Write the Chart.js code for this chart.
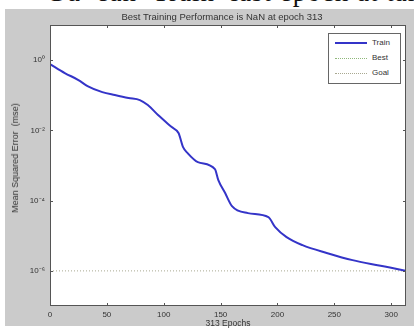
<!DOCTYPE html>
<html>
<head>
<meta charset="utf-8">
<script src="https://cdn.jsdelivr.net/npm/chart.js@4.4.1/dist/chart.umd.min.js"></script>
<style>
  html, body { margin: 0; padding: 0; background: #fff; }
  #wrap { position: relative; width: 414px; height: 329px; overflow: hidden; }
  #doc { position: absolute; left: 46px; top: -23px; font: 27px "Liberation Serif", serif; color: #111; white-space: nowrap; letter-spacing: 1px; }
  #fig { position: absolute; left: 5px; top: 9px; width: 409px; height: 317px; background: #cbcbcb; }
  canvas { position: absolute; left: 0; top: 0; }
  .lbl { position: absolute; font: 8px "Liberation Sans", Arial, sans-serif; color: #333; white-space: nowrap; }
  #title { left: 222px; top: 11px; transform: translateX(-50%); font-size: 9.5px; }
  #xtitle { left: 228px; top: 318px; transform: translateX(-50%); font-size: 8.5px; }
  #ytitle { left: 15px; top: 158px; transform: translate(-50%, -50%) rotate(-90deg); font-size: 9px; }
  #legend { position: absolute; left: 328px; top: 33px; width: 71px; height: 49px; background: #fff; border: 1px solid #666; }
  .row { position: absolute; left: 6px; height: 10px; width: 62px; }
  .sw { position: absolute; left: 0; top: 5px; width: 32px; height: 0; }
  .row span { position: absolute; left: 37px; top: 0; font: 8px "Liberation Sans", Arial, sans-serif; color: #333; }
</style>
</head>
<body>
<div id="wrap">
  <div id="doc">Gu&nbsp;&nbsp;ean&nbsp;&nbsp;Train&nbsp;&nbsp;last epoch at target</div>
  <div id="fig"></div>
  <canvas id="chart" width="414" height="329"></canvas>
  <div class="lbl" id="title">Best Training Performance is NaN at epoch 313</div>
  <div class="lbl" id="xtitle">313 Epochs</div>
  <div class="lbl" id="ytitle">Mean Squared Error&nbsp;&nbsp;(mse)</div>
  <div id="legend">
    <div class="row" style="top:4px"><div class="sw" style="border-top:2px solid #3434c8;top:4px"></div><span>Train</span></div>
    <div class="row" style="top:19px"><div class="sw" style="border-top:1px dotted #8fb87a"></div><span>Best</span></div>
    <div class="row" style="top:34px"><div class="sw" style="border-top:1px dotted #a8a890"></div><span>Goal</span></div>
  </div>
</div>
<script>
// epochs
var epochs = [0, 13, 25, 33, 46, 57, 69, 79, 86, 95, 107, 113, 117, 121, 130, 145, 148, 154, 160, 174, 192, 198, 208, 222, 244, 266, 288, 302, 313];
// training mse at those epochs
var trainMse = [0.774, 0.429, 0.271, 0.183, 0.123, 0.101, 0.0832, 0.0729, 0.0526, 0.0273, 0.0124, 0.00838, 0.00334, 0.00225, 0.00125,
  7.89e-4, 3.84e-4, 1.64e-4, 6.97e-5, 4.41e-5, 3.39e-5, 1.76e-5, 9.12e-6, 5.40e-6, 3.19e-6, 2.02e-6, 1.45e-6, 1.19e-6, 1.0e-6];
var goalValue = 1e-6;
var xRange = [0, 313];
var yRange = [1e-7, 10];
var xTicks = [0, 50, 100, 150, 200, 250, 300];
var yTicks = [1e-6, 1e-4, 1e-2, 1];

var sup = { '0': '\u2070', '1': '\u00b9', '2': '\u00b2', '3': '\u00b3', '4': '\u2074', '5': '\u2075', '6': '\u2076', '7': '\u2077', '8': '\u2078', '9': '\u2079', '-': '\u207b' };
function decadeLabel(v) {
    var e = String(Math.round(Math.log10(v)));
    var s = '';
    for (var i = 0; i < e.length; i++) s += sup[e[i]];
    return '10' + s;
}

var trainPts = epochs.map(function(e, i) { return { x: e, y: trainMse[i] }; });
var goalPts = [{ x: xRange[0], y: goalValue }, { x: xRange[1], y: goalValue }];

// white axes background, box and inward ticks like matlab
var axesBox = {
    id: 'axesBox',
    beforeDraw: function(chart) {
        var a = chart.chartArea, ctx = chart.ctx;
        ctx.save();
        ctx.fillStyle = '#fff';
        ctx.fillRect(a.left, a.top, a.right - a.left, a.bottom - a.top);
        ctx.restore();
    },
    afterDraw: function(chart) {
        var a = chart.chartArea, ctx = chart.ctx;
        var xs = chart.scales.x, ys = chart.scales.y;
        ctx.save();
        ctx.strokeStyle = '#555';
        ctx.lineWidth = 1;
        ctx.strokeRect(a.left + 0.5, a.top + 0.5, a.right - a.left - 1, a.bottom - a.top - 1);
        ctx.beginPath();
        xs.ticks.forEach(function(t) {
            var px = Math.round(xs.getPixelForValue(t.value)) + 0.5;
            ctx.moveTo(px, a.bottom); ctx.lineTo(px, a.bottom - 3);
            ctx.moveTo(px, a.top); ctx.lineTo(px, a.top + 3);
        });
        ys.ticks.forEach(function(t) {
            var py = Math.round(ys.getPixelForValue(t.value)) + 0.5;
            ctx.moveTo(a.left, py); ctx.lineTo(a.left + 3, py);
            ctx.moveTo(a.right, py); ctx.lineTo(a.right - 3, py);
        });
        ctx.stroke();
        ctx.restore();
    }
};

new Chart(document.getElementById('chart').getContext('2d'), {
    type: 'line',
    data: {
        datasets: [
            { label: 'Train', data: trainPts, borderColor: '#3434c8', borderWidth: 2, pointRadius: 0, tension: 0.35, cubicInterpolationMode: 'monotone' },
            { label: 'Goal', data: goalPts, borderColor: '#a8a890', borderWidth: 1, borderDash: [1, 2], pointRadius: 0 }
        ]
    },
    options: {
        responsive: false,
        animation: false,
        layout: { padding: { top: 25, right: 8, left: 0, bottom: 0 } },
        plugins: { legend: { display: false }, tooltip: { enabled: false } },
        scales: {
            x: {
                type: 'linear', min: xRange[0], max: xRange[1],
                afterBuildTicks: function(s) { s.ticks = xTicks.map(function(v) { return { value: v }; }); },
                afterFit: function(s) { s.height = 23; },
                grid: { display: false, drawTicks: false }, border: { display: false },
                ticks: { font: { size: 8, family: 'Liberation Sans' }, color: '#333', padding: 4, maxRotation: 0 }
            },
            y: {
                type: 'logarithmic', min: yRange[0], max: yRange[1],
                afterBuildTicks: function(s) { s.ticks = yTicks.map(function(v) { return { value: v }; }); },
                afterFit: function(s) { s.width = 50; },
                grid: { display: false, drawTicks: false }, border: { display: false },
                ticks: { font: { size: 8, family: 'Liberation Sans' }, color: '#333', padding: 5, callback: decadeLabel }
            }
        }
    },
    plugins: [axesBox]
});
</script>
</body>
</html>
